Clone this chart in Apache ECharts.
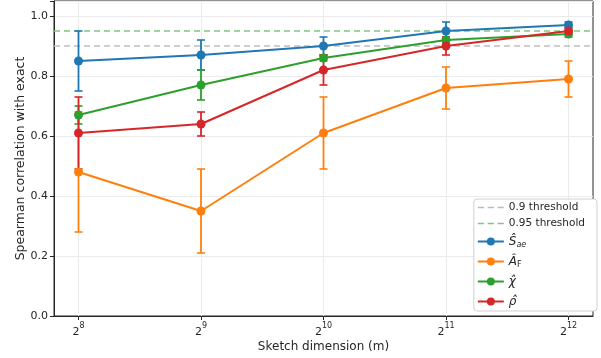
<!DOCTYPE html>
<html>
<head>
<meta charset="utf-8">
<script src="https://cdn.jsdelivr.net/npm/echarts@6/dist/echarts.min.js"></script>
<style>
  html, body { margin: 0; padding: 0; background: #fff; }
  #chartContainer { width: 601px; height: 358px; }
</style>
</head>
<body>
<div id="chartContainer"></div>
<script>
// log2 of sketch dimension m
var dims = [8, 9, 10, 11, 12];

// mean spearman correlation + error half widths
var sae = [0.85, 0.87, 0.90, 0.95, 0.97];
var saeErr = [0.10, 0.05, 0.03, 0.03, 0.01];
var af = [0.48, 0.35, 0.61, 0.76, 0.79];
var afErr = [0.20, 0.14, 0.12, 0.07, 0.06];
var chi = [0.67, 0.77, 0.86, 0.92, 0.94];
var chiErr = [0.03, 0.05, 0.01, 0.01, 0.01];
var rho = [0.61, 0.64, 0.82, 0.90, 0.95];
var rhoErr = [0.12, 0.04, 0.05, 0.03, 0.01];

var thresholds = [0.9, 0.95];

var colors = ['#1f77b4', '#ff7f0e', '#2ca02c', '#d62728'];
var font = 'DejaVu Sans';

// dashed legend icon (tiny corner dots keep the box 30x10)
var dashIcon = 'path://M0,0h0.01v0.01h-0.01z M0,10h0.01v0.01h-0.01z M0,4.2h7v1.6h-7z M11,4.2h7v1.6h-7z M22,4.2h7v1.6h-7z';

function pts(vals) {
    return dims.map(function (d, i) { return [d, vals[i]]; });
}

// error bars drawn via custom series
function errSeries(name, vals, errs, color) {
    var data = dims.map(function (d, i) { return [d, vals[i] - errs[i], vals[i] + errs[i]]; });
    return {
        name: name + '_err',
        type: 'custom',
        silent: true,
        z: 3,
        data: data,
        encode: { x: 0, y: [1, 2] },
        renderItem: function (params, api) {
            var lo = api.coord([api.value(0), api.value(1)]);
            var hi = api.coord([api.value(0), api.value(2)]);
            var w = 4;
            return {
                type: 'group',
                children: [
                    { type: 'line', shape: { x1: lo[0], y1: lo[1], x2: hi[0], y2: hi[1] }, style: { stroke: color, lineWidth: 1.8, fill: null } },
                    { type: 'line', shape: { x1: lo[0] - w, y1: lo[1], x2: lo[0] + w, y2: lo[1] }, style: { stroke: color, lineWidth: 1.6, fill: null } },
                    { type: 'line', shape: { x1: hi[0] - w, y1: hi[1], x2: hi[0] + w, y2: hi[1] }, style: { stroke: color, lineWidth: 1.6, fill: null } }
                ]
            };
        }
    };
}

function lineSeries(name, vals, color) {
    return {
        name: name,
        type: 'line',
        z: 3,
        data: pts(vals),
        symbol: 'circle',
        symbolSize: 9,
        itemStyle: { color: color },
        lineStyle: { color: color, width: 2 },
        emphasis: { disabled: true }
    };
}

var names = {
    'sae': '{i|Ŝ}{sub|ae}',
    'af': '{i|Â}{subu|F}',
    'chi': '{i|χ̂}',
    'rho': '{i|ρ̂}'
};

var options = {
    animation: false,
    grid: {
        left: 54, right: 8, top: 1, bottom: 42,
        outerBoundsMode: 'none',
        containLabel: false,
        show: true, borderColor: '#262626', borderWidth: 1
    },
    xAxis: {
        type: 'value',
        min: 7.8,
        max: 12.2,
        name: 'Sketch dimension (m)',
        nameLocation: 'middle',
        nameMoveOverlap: false,
        nameGap: 25,
        nameTextStyle: { fontFamily: font, fontSize: 12, color: '#262626' },
        axisLine: { show: true, lineStyle: { color: '#262626' } },
        axisTick: { show: true, customValues: dims, length: 4, lineStyle: { color: '#262626' } },
        splitLine: { show: false },
        axisLabel: {
            customValues: dims,
            margin: 6,
            formatter: function (v) { return '{b|2}{s|' + v + '}'; },
            rich: {
                b: { fontFamily: font, fontSize: 11, color: '#262626', verticalAlign: 'bottom', lineHeight: 16 },
                s: { fontFamily: font, fontSize: 8, color: '#262626', verticalAlign: 'top', lineHeight: 16 }
            }
        }
    },
    yAxis: {
        type: 'value',
        min: 0,
        max: 1.05,
        interval: 0.2,
        name: 'Spearman correlation with exact',
        nameLocation: 'middle',
        nameMoveOverlap: false,
        nameGap: 27,
        nameTextStyle: { fontFamily: font, fontSize: 12.5, color: '#262626' },
        axisLine: { show: true, lineStyle: { color: '#262626' } },
        axisTick: { show: true, length: 4, lineStyle: { color: '#262626' } },
        splitLine: { show: true, lineStyle: { color: '#ebebeb', width: 1 } },
        axisLabel: {
            fontFamily: font, fontSize: 11, color: '#262626', margin: 6,
            formatter: function (v) {
                if (v > 1.001) return '';
                return v.toFixed(1);
            }
        }
    },
    legend: {
        orient: 'vertical',
        right: 4,
        bottom: 47,
        backgroundColor: '#fff',
        borderColor: '#d0d0d0',
        borderWidth: 1,
        borderRadius: 3,
        padding: [3, 12, 2, 3],
        itemGap: 5,
        itemWidth: 26,
        itemHeight: 10,
        z: 10,
        data: [
            { name: '0.9 threshold', icon: dashIcon },
            { name: '0.95 threshold', icon: dashIcon },
            'sae', 'af', 'chi', 'rho'
        ],
        formatter: function (n) { return names[n] || n; },
        textStyle: {
            fontFamily: font, fontSize: 10.5, color: '#262626', lineHeight: 11,
            rich: {
                i: { fontFamily: font, fontStyle: 'italic', fontSize: 12, color: '#262626', lineHeight: 15 },
                sub: { fontFamily: font, fontStyle: 'italic', fontSize: 8, color: '#262626', verticalAlign: 'bottom', padding: [6, 0, 0, 0], lineHeight: 15 },
                subu: { fontFamily: font, fontSize: 8, color: '#262626', verticalAlign: 'bottom', padding: [6, 0, 0, 0], lineHeight: 15 }
            }
        }
    },
    series: [
        {
            name: 'vgrid',
            type: 'line',
            data: [],
            silent: true,
            z: 0,
            markLine: {
                silent: true,
                z: 0,
                symbol: 'none',
                label: { show: false },
                lineStyle: { color: '#ebebeb', type: 'solid', width: 1 },
                data: dims.map(function (d) { return { xAxis: d }; })
            }
        },
        {
            name: '0.9 threshold',
            type: 'line',
            z: 1,
            data: [[7.8, thresholds[0]], [12.2, thresholds[0]]],
            symbol: 'none',
            itemStyle: { color: '#bdbdbd' },
            lineStyle: { color: '#bdbdbd', type: [6, 4], width: 1.5 },
            emphasis: { disabled: true }
        },
        {
            name: '0.95 threshold',
            type: 'line',
            z: 1,
            data: [[7.8, thresholds[1]], [12.2, thresholds[1]]],
            symbol: 'none',
            itemStyle: { color: '#80c880' },
            lineStyle: { color: '#80c880', type: [6, 4], width: 1.5 },
            emphasis: { disabled: true }
        },
        errSeries('sae', sae, saeErr, colors[0]),
        lineSeries('sae', sae, colors[0]),
        errSeries('af', af, afErr, colors[1]),
        lineSeries('af', af, colors[1]),
        errSeries('chi', chi, chiErr, colors[2]),
        lineSeries('chi', chi, colors[2]),
        errSeries('rho', rho, rhoErr, colors[3]),
        lineSeries('rho', rho, colors[3])
    ]
};

var myChar = echarts.init(document.getElementById('chartContainer'));
myChar.setOption(options);
</script>
</body>
</html>
